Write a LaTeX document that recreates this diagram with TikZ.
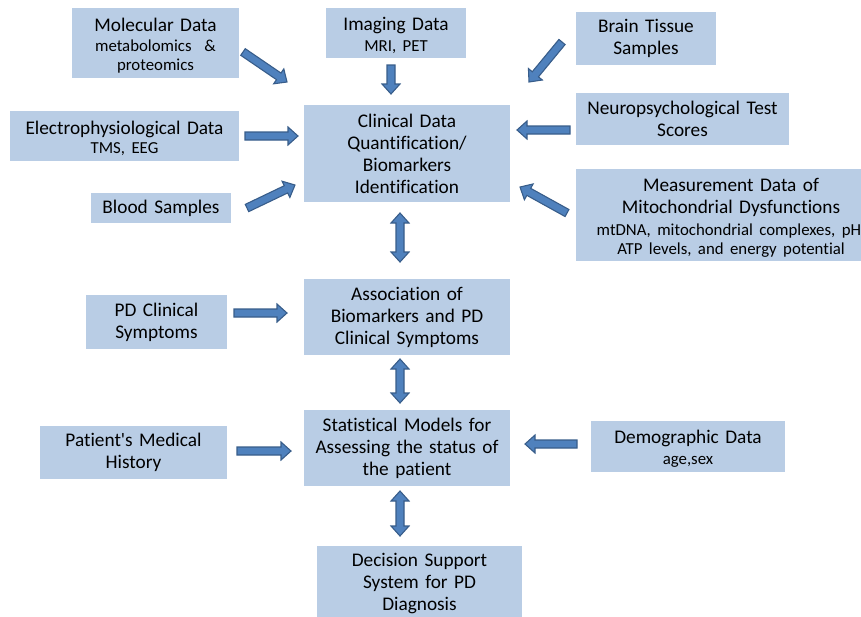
\documentclass[tikz,border=0pt]{standalone}
\usepackage{fontspec}
\newfontfamily\plainfnt{Carlito}[Ligatures=NoCommon]
\setmainfont{Carlito}
\usetikzlibrary{calc}
\definecolor{boxfill}{HTML}{B9CDE5}
\definecolor{arrfill}{HTML}{4F81BD}
\definecolor{arrdraw}{HTML}{385D8A}
\newcommand\subtxt{\fontsize{16.8}{19}\selectfont}
\newcommand\tallstrut{\rule{0pt}{18.5pt}}
\newcommand\BAset[2]{\path let \p1=($(#2)-(#1)$) in \pgfextra{\pgfmathsetmacro\BAang{atan2(\y1,\x1)}\pgfmathsetmacro\BAlen{veclen(\x1,\y1)}\xdef\BAangG{\BAang}\xdef\BAlenG{\BAlen}};}
\newcommand\sarrow[2]{\BAset{#1}{#2}%
  \draw[barrow,shift={(#1)},rotate=\BAangG] (0pt,4pt) -- ({\BAlenG pt-10pt},4pt) -- ({\BAlenG pt-10pt},9pt) -- (\BAlenG pt,0pt) -- ({\BAlenG pt-10pt},-9pt) -- ({\BAlenG pt-10pt},-4pt) -- (0pt,-4pt) -- cycle;}
\newcommand\darrow[2]{\BAset{#1}{#2}%
  \draw[barrow,shift={(#1)},rotate=\BAangG] (0pt,0pt) -- (10pt,9pt) -- (10pt,4pt) -- ({\BAlenG pt-10pt},4pt) -- ({\BAlenG pt-10pt},9pt) -- (\BAlenG pt,0pt) -- ({\BAlenG pt-10pt},-9pt) -- ({\BAlenG pt-10pt},-4pt) -- (10pt,-4pt) -- (10pt,-9pt) -- cycle;}
\begin{document}
\begin{tikzpicture}[x=1pt,y=-1pt,
  tbox/.style n args={2}{fill=boxfill, inner sep=0pt, minimum width=#1pt, text width=#1pt, minimum height=#2pt, align=center, font=\plainfnt\fontsize{19.3}{22}\selectfont},
  barrow/.style={fill=arrfill, draw=arrdraw, line width=1.1pt, line join=miter}]
\useasboundingbox (0,0) rectangle (861,616);
\clip (0,0) rectangle (861,616);
% boxes
\node[tbox={167}{70}] (mol) at (155.5,43) {\tallstrut Molecular Data\\[-2pt]{\subtxt metabolomics~~\&}\\[-3pt]{\subtxt proteomics}};
\node[tbox={140}{50}] (img) at (396,33) {\tallstrut Imaging Data\\[-1pt]{\subtxt MRI, PET}};
\node[tbox={140}{53}] (brain) at (646,38.5) {Brain Tissue\\Samples};
\node[tbox={229}{50}] (elec) at (124.5,136) {\tallstrut Electrophysiological Data\\[-3pt]{\subtxt TMS, EEG}};
\node[tbox={206}{97}] (clin) at (407,153.5) {Clinical Data\\Quantification/\\Biomarkers\\Identification};
\node[tbox={213}{52}] (neuro) at (682.5,119) {Neuropsychological Test\\Scores};
\node[tbox={140}{30}] (blood) at (161,208) {Blood Samples};
\node[tbox={310}{92}] (meas) at (731,215) {\tallstrut Measurement Data of\\Mitochondrial Dysfunctions\\{\subtxt mtDNA, mitochondrial complexes, pH,}\\[-3pt]{\subtxt ATP levels, and energy potential}};
\node[tbox={206}{76}] (assoc) at (407,317) {Association of\\Biomarkers and PD\\Clinical Symptoms};
\node[tbox={141}{54}] (pd) at (156.5,322) {PD Clinical\\Symptoms};
\node[tbox={206}{76}] (stat) at (407,448) {Statistical Models for\\Assessing the status of\\the patient};
\node[tbox={187}{53}] (pat) at (133.5,452.5) {Patient's Medical\\History};
\node[tbox={194}{51}] (demo) at (688,446.5) {\tallstrut Demographic Data\\[-1pt]{\subtxt age,sex}};
\node[tbox={205}{76}] (dec) at (419.5,584) {Decision Support\\System for PD\\Diagnosis};
% arrow ends
\coordinate (a1s) at (243,52);  \coordinate (a1e) at (287,82);
\coordinate (a2s) at (391,65);  \coordinate (a2e) at (391,94);
\coordinate (a3s) at (562,42);  \coordinate (a3e) at (529,82);
\coordinate (a4s) at (245,136); \coordinate (a4e) at (298,136);
\coordinate (a5s) at (570,130); \coordinate (a5e) at (517,130);
\coordinate (a6s) at (247,208); \coordinate (a6e) at (295,185);
\coordinate (a7s) at (567,213); \coordinate (a7e) at (520,187);
\coordinate (a8s) at (400,213); \coordinate (a8e) at (400,262);
\coordinate (a9s) at (234,313); \coordinate (a9e) at (287,313);
\coordinate (a10s) at (400,359); \coordinate (a10e) at (400,403);
\coordinate (a11s) at (237,451); \coordinate (a11e) at (291,451);
\coordinate (a12s) at (577,444); \coordinate (a12e) at (525,444);
\coordinate (a13s) at (400,491); \coordinate (a13e) at (400,536);
\sarrow{a1s}{a1e}
\sarrow{a2s}{a2e}
\sarrow{a3s}{a3e}
\sarrow{a4s}{a4e}
\sarrow{a5s}{a5e}
\sarrow{a6s}{a6e}
\sarrow{a7s}{a7e}
\darrow{a8s}{a8e}
\sarrow{a9s}{a9e}
\darrow{a10s}{a10e}
\sarrow{a11s}{a11e}
\sarrow{a12s}{a12e}
\darrow{a13s}{a13e}
\end{tikzpicture}
\end{document}
